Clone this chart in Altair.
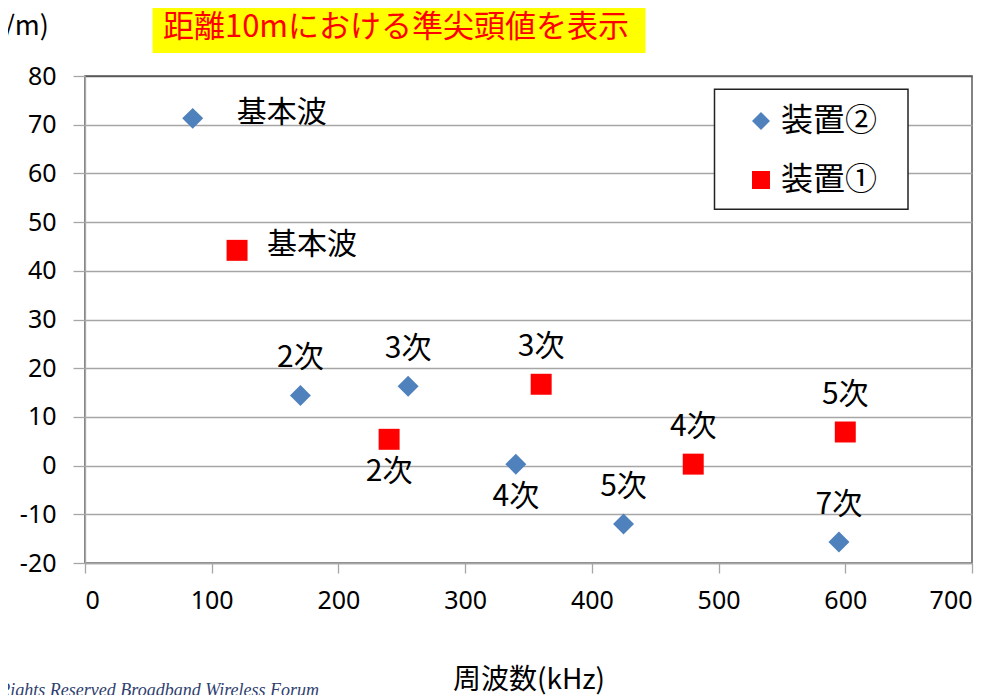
import altair as alt
import pandas as pd

# ---- data ----
dev2_freq = [85, 170, 255, 340, 425, 595]
dev2_level = [71.3, 14.4, 16.3, 0.3, -12.0, -15.7]
dev2_labels = ["基本波", "2次", "3次", "4次", "5次", "7次"]
dev2_place = ["right", "above", "above", "below", "above", "above"]

dev1_freq = [120, 240, 360, 480, 600]
dev1_level = [44.2, 5.4, 16.7, 0.3, 6.9]
dev1_labels = ["基本波", "2次", "3次", "4次", "5次"]
dev1_place = ["right", "below", "above", "above", "above"]

devices = ["装置②", "装置①"]
x_ticks = [0, 100, 200, 300, 400, 500, 600, 700]
y_ticks = [-20, -10, 0, 10, 20, 30, 40, 50, 60, 70, 80]

title_text = "距離10mにおける準尖頭値を表示"
x_title = "周波数(kHz)"
y_title_lines = ["電界強度", "(dBμV/m)"]
footer_text = "All Rights Reserved Broadband Wireless Forum"

CJK = "Noto Sans CJK JP"

df = pd.concat([
    pd.DataFrame({"freq": dev2_freq, "level": dev2_level, "label": dev2_labels,
                  "place": dev2_place, "device": devices[0]}),
    pd.DataFrame({"freq": dev1_freq, "level": dev1_level, "label": dev1_labels,
                  "place": dev1_place, "device": devices[1]}),
], ignore_index=True)

xs = alt.Scale(domain=[0, 700], nice=False, zero=False)
ys = alt.Scale(domain=[-20, 80], nice=False, zero=False)

x_enc = alt.X("freq:Q", scale=xs, axis=alt.Axis(
    values=x_ticks, grid=False, tickSize=10, tickColor="#a6a6a6", tickWidth=1.3,
    domainColor="#a6a6a6", domainWidth=1.3,
    labelFont="Noto Sans", labelFontSize=25, labelColor="#000000", labelPadding=15,
    labelExpr="toString(datum.value)",
    title=x_title, titleFont=CJK, titleFontSize=28, titleFontWeight="normal",
    titleColor="#000000", titleY=117, titleBaseline="middle"))
y_enc = alt.Y("level:Q", scale=ys, axis=alt.Axis(
    values=y_ticks, grid=True,
    gridColor={"condition": {"test": "datum.value === 80", "value": "#595959"}, "value": "#a6a6a6"},
    gridWidth=1.4, tickSize=12, tickColor="#a6a6a6", tickWidth=1.3,
    domainColor="#a6a6a6", domainWidth=1.3,
    labelFont="Noto Sans", labelFontSize=25, labelColor="#000000", labelPadding=17,
    labelExpr="toString(datum.value)",
    title=None))

base = alt.Chart(df).encode(x=x_enc, y=y_enc)

legend = alt.Legend(title=None)
points = base.mark_point(filled=True, size=440, opacity=1).encode(
    color=alt.Color("device:N", scale=alt.Scale(domain=devices, range=["#4F81BD", "#FF0000"]), legend=legend),
    shape=alt.Shape("device:N", scale=alt.Scale(domain=devices, range=["diamond", "square"]), legend=legend),
)

txt = dict(font=CJK, fontSize=30, color="#000000", baseline="middle")
right2 = base.transform_filter(
    "datum.place === 'right' && datum.device === '装置②'").mark_text(align="left", dx=44, dy=-5, **txt).encode(text="label:N")
right1 = base.transform_filter(
    "datum.place === 'right' && datum.device === '装置①'").mark_text(align="left", dx=30, dy=-5, **txt).encode(text="label:N")
above = base.transform_filter("datum.place === 'above'").mark_text(
    align="center", dy=-37, **txt).encode(text="label:N")
below = base.transform_filter("datum.place === 'below'").mark_text(
    align="center", dy=33, **txt).encode(text="label:N")

# legend frame (white box behind the legend entries)
one = pd.DataFrame({"t": [title_text]})
legend_frame = alt.Chart(one).mark_rect(fill="white", stroke="#222222", strokeWidth=1.5).encode(
    x=alt.value(629.5), x2=alt.value(823), y=alt.value(13.3), y2=alt.value(133.3))

# title box
title_box = alt.Chart(one).mark_rect(color="#FFFF00").encode(
    x=alt.value(67.5), x2=alt.value(560.5), y=alt.value(-74), y2=alt.value(-23))
title_txt = alt.Chart(one).mark_text(font=CJK, fontSize=31, color="#FF0000",
                                     align="center", baseline="middle").encode(
    x=alt.value(311), y=alt.value(-48), text="t:N")

# y-axis title (cut at the page edge as in the reference)
ydf = pd.DataFrame({"t": y_title_lines, "row": [0, 1]})
ytitle0 = alt.Chart(ydf).transform_filter("datum.row === 0").mark_text(
    font=CJK, fontSize=27, color="#000000", align="right", baseline="middle").encode(
    x=alt.value(-40), y=alt.value(-82), text="t:N")
ytitle1 = alt.Chart(ydf).transform_filter("datum.row === 1").mark_text(
    font=CJK, fontSize=27, color="#000000", align="right", baseline="middle").encode(
    x=alt.value(-36), y=alt.value(-49), text="t:N")

fdf = pd.DataFrame({"t": [footer_text]})
footer = alt.Chart(fdf).mark_text(font="Liberation Serif", fontStyle="italic", fontSize=18,
                                  color="#2F3F6F", align="right", baseline="middle").encode(
    x=alt.value(234), y=alt.value(615), text="t:N")

chart = alt.layer(title_box, title_txt, ytitle0, ytitle1, footer, legend_frame, points,
                  right2, right1, above, below).properties(
    width=887, height=487,
    autosize=alt.AutoSizeParams(type="none"),
    padding={"left": 77, "top": 68, "right": 23, "bottom": 132},
    background="white",
).configure_view(stroke="#595959", strokeWidth=1.5).configure_legend(
    orient="none", legendX=629, legendY=15,
    padding=14, rowPadding=27, symbolOffset=17, labelOffset=4,
    labelFont=CJK, labelFontSize=32, labelColor="#000000",
    symbolSize=324, symbolStrokeWidth=0, labelLimit=300,
)

chart.save("out.html", embed_options={"renderer": "svg", "actions": False})
